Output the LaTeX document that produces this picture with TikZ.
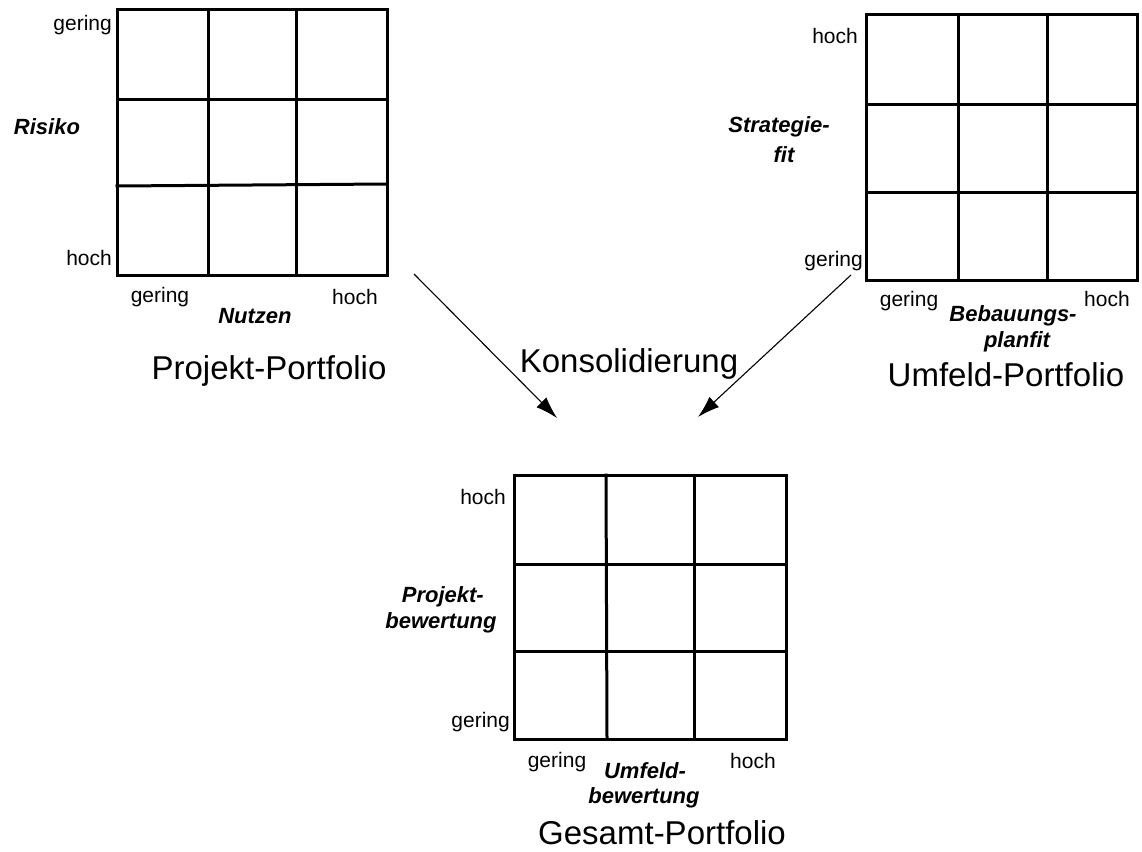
\documentclass[tikz,border=0pt]{standalone}
\usepackage{fontspec}
\setmainfont{Liberation Sans}
\usetikzlibrary{arrows.meta}
\tikzset{
  gridline/.style={line width=3pt, line cap=rect},
  small/.style={inner sep=0pt, font=\fontsize{21}{23}\selectfont},
  axis/.style={inner sep=0pt, align=center, font=\fontsize{22}{26}\selectfont\bfseries\itshape},
  title/.style={inner sep=0pt, font=\fontsize{33}{37}\selectfont},
  flow/.style={line width=1.1pt, -{Latex[length=22pt,width=14pt]}}
}
\begin{document}
\begin{tikzpicture}[x=1pt,y=-1pt]
\useasboundingbox (0,0) rectangle (1142,851);
% Grid 1: Projekt-Portfolio
\draw[gridline] (117,10) rectangle (387,275);
\draw[gridline] (208,10) -- (208,275);
\draw[gridline] (296,10) -- (296,275);
\draw[gridline] (117,99) -- (387,99);
\draw[gridline] (117,186) -- (387,184);
\node[small, anchor=east] (g1yl) at (112,25) {gering};
\node[small, anchor=east] (g1yh) at (112,258) {hoch};
\node[axis] (g1ya) at (47,127) {Risiko};
\node[small] (g1xl) at (160,297) {gering};
\node[small] (g1xh) at (355,297) {hoch};
\node[axis] (g1xa) at (255,316) {Nutzen};
\node[title] (t1) at (269,371) {Projekt-Portfolio};
% Grid 2: Umfeld-Portfolio
\draw[gridline] (866,15) rectangle (1137,280);
\draw[gridline] (958,15) -- (958,280);
\draw[gridline] (1047,15) -- (1047,280);
\draw[gridline] (866,104) -- (1137,104);
\draw[gridline] (866,192) -- (1137,192);
\node[small, anchor=east] (g2yh) at (858,36) {hoch};
\node[small, anchor=east] (g2yl) at (863,261) {gering};
\node[axis, anchor=east] (g2ya1) at (830,127) {Strategie-};
\node[axis] (g2ya2) at (784,155) {fit};
\node[small] (g2xl) at (909,301) {gering};
\node[small] (g2xh) at (1107,299) {hoch};
\node[axis] (g2xa1) at (1013,316) {Bebauungs-};
\node[axis] (g2xa2) at (1017,342) {planfit};
\node[title] (t2) at (1006,375) {Umfeld-Portfolio};
% Grid 3: Gesamt-Portfolio
\draw[gridline] (514,475) rectangle (786,739);
\draw[gridline] (606,475) -- (607,739);
\draw[gridline] (694,475) -- (694,739);
\draw[gridline] (514,564) -- (786,564);
\draw[gridline] (514,651) -- (786,651);
\node[small, anchor=east] (g3yh) at (506,497) {hoch};
\node[small, anchor=east] (g3yl) at (510,722) {gering};
\node[axis, anchor=east] (g3ya1) at (484,597) {Projekt-};
\node[axis] (g3ya2) at (441,623) {bewertung};
\node[small] (g3xl) at (557,762) {gering};
\node[small] (g3xh) at (753,761) {hoch};
\node[axis] (g3xa1) at (645,771) {Umfeld-};
\node[axis] (g3xa2) at (644,798) {bewertung};
\node[title] (t3) at (662,833) {Gesamt-Portfolio};
% Consolidation
\node[title] (kons) at (629,364) {Konsolidierung};
\coordinate (a1s) at (414,274);
\coordinate (a1e) at (557,418);
\coordinate (a2s) at (851,275);
\coordinate (a2e) at (698,417);
\draw[flow] (a1s) -- (a1e);
\draw[flow] (a2s) -- (a2e);
\end{tikzpicture}
\end{document}
